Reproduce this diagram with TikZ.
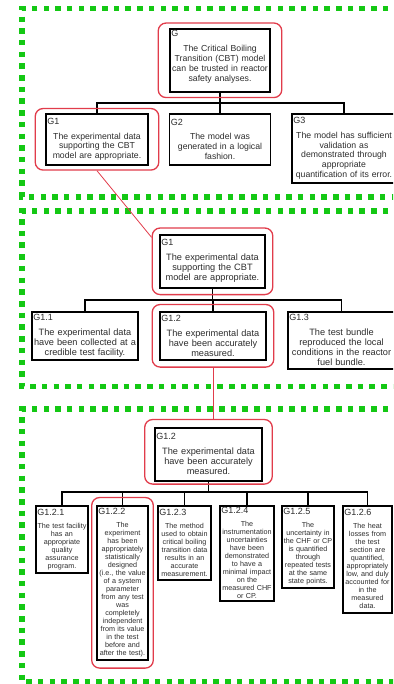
\documentclass[tikz,border=0pt]{standalone}
\usepackage{fontspec}
\setmainfont{Liberation Sans}
\usetikzlibrary{fit,calc}
\definecolor{dotgreen}{RGB}{20,200,20}
\definecolor{hlred}{RGB}{225,60,75}
\definecolor{txt}{RGB}{45,45,45}
\newcommand{\glbl}[1]{\makebox[\linewidth][l]{\hspace*{4.3pt}\fontsize{9}{9}\selectfont #1}}
\tikzset{
  goal/.style 2 args={draw=black, line width=1.6pt, fill=white,
    minimum width=#1pt, text width=#1pt+6pt, minimum height=#2pt,
    inner xsep=-3pt, inner ysep=1pt, align=center, anchor=north, text=txt},
  bigtxt/.style={font=\fontsize{8.7}{9.8}\selectfont},
  midtxt/.style={font=\fontsize{9.2}{10}\selectfont},
  smalltxt/.style={font=\fontsize{7.2}{8}\selectfont},
  hl/.style={draw=hlred, line width=1.3pt, rounded corners=8pt},
  link/.style={draw=black, line width=1.6pt},
  redlink/.style={draw=hlred, line width=0.8pt},
  panel/.style={draw=dotgreen, line width=5.5pt, dash pattern=on 5.5pt off 6.2pt}
}
\begin{document}
\begin{tikzpicture}[x=1pt,y=-1pt]
\useasboundingbox (0,0) rectangle (393,684);
\clip (0,0) rectangle (393,684);
% green panels
\draw[panel] (400,8.5) -- (22,8.5) -- (22,197) -- (400,197);
\draw[panel] (400,211) -- (22,211) -- (22,386.5) -- (400,386.5);
\draw[panel] (400,409) -- (22,409) -- (22,682) -- (400,682);

% ---------- panel 1 ----------
\node[goal={100}{63}, bigtxt] (G) at (220,28) {\glbl{G}\\[5pt]The Critical Boiling\\Transition (CBT) model\\can be trusted in reactor\\safety analyses.\rule[-9pt]{0pt}{1pt}};
\node[goal={102}{51}, bigtxt] (G1) at (97,113) {\glbl{G1}\\[5pt]The experimental data\\supporting the CBT\\model are appropriate.};
\node[goal={101}{51}, bigtxt] (G2) at (220,113) {\glbl{G2}\\[5pt]The model was\\generated in a logical\\fashion.};
\node[goal={104}{69}, bigtxt] (G3) at (344,113) {\glbl{G3}\\[5pt]The model has sufficient\\validation as\\demonstrated through\\appropriate\\quantification of its error.};
\coordinate (bar1) at (220,103);
\draw[link] (G.south) -- (G.south |- bar1);
\draw[link] (G1.north) |- (bar1) -| (G3.north);
\draw[link] (G2.north) -- (G2.north |- bar1);
\node[hl, fit=(G), inner xsep=11pt, inner ysep=5pt] (hG) {};
\node[hl, fit=(G1), inner xsep=10pt, inner ysep=4.5pt] (hG1) {};

% ---------- panel 2 ----------
\node[goal={105}{53}, midtxt] (P2G1) at (212.5,234) {\glbl{G1}\\[5pt]The experimental data\\supporting the CBT\\model are appropriate.};
\node[goal={106}{48}, midtxt] (G11) at (85,311) {\glbl{G1.1}\\[5pt]The experimental data\\have been collected at a\\credible test facility.};
\node[goal={106}{48}, midtxt] (G12) at (213,311) {\glbl{G1.2}\\[5pt]The experimental data\\have been accurately\\measured.};
\node[goal={107}{57}, midtxt] (G13) at (341.5,311) {\glbl{G1.3}\\[5pt]The test bundle\\reproduced the local\\conditions in the reactor\\fuel bundle.};
\coordinate (bar2) at (213,300);
\draw[link] (P2G1.south) -- (P2G1.south |- bar2);
\draw[link] (G11.north) |- (bar2) -| (G13.north);
\draw[link] (G12.north) -- (G12.north |- bar2);
\node[hl, fit=(P2G1), inner xsep=7pt, inner ysep=6pt] (hP2G1) {};
\node[hl, fit=(G12), inner xsep=7pt, inner ysep=6.5pt] (hG12) {};

% ---------- panel 3 ----------
\node[goal={107}{53}, midtxt] (P3G12) at (208.5,427) {\glbl{G1.2}\\[5pt]The experimental data\\have been accurately\\measured.};
\node[goal={52}{67}, smalltxt] (G121) at (62,505) {\glbl{G1.2.1}\\[5pt]The test facility\\has an\\appropriate\\quality\\assurance\\program.};
\node[goal={51}{154}, smalltxt] (G122) at (122.5,505) {\glbl{G1.2.2}\\[5pt]The\\experiment\\has been\\appropriately\\statistically\\designed\\(i.e., the value\\of a system\\parameter\\from any test\\was\\completely\\independent\\from its value\\in the test\\before and\\after the test).};
\node[goal={53}{74}, smalltxt] (G123) at (184.5,505) {\glbl{G1.2.3}\\[5pt]The method\\used to obtain\\critical boiling\\transition data\\results in an\\accurate\\measurement.};
\node[goal={54}{95}, smalltxt] (G124) at (247,505) {\glbl{G1.2.4}\\[5pt]The\\instrumentation\\uncertainties\\have been\\demonstrated\\to have a\\minimal impact\\on the\\measured CHF\\or CP.};
\node[goal={52}{82}, smalltxt] (G125) at (308,505) {\glbl{G1.2.5}\\[5pt]The\\uncertainty in\\the CHF or CP\\is quantified\\through\\repeated tests\\at the same\\state points.};
\node[goal={49}{107}, smalltxt] (G126) at (367.5,505) {\glbl{G1.2.6}\\[5pt]The heat\\losses from\\the test\\section are\\quantified,\\appropriately\\low, and duly\\accounted for\\in the\\measured\\data.};
\coordinate (bar3) at (208.5,492);
\draw[link] (P3G12.south) -- (P3G12.south |- bar3);
\draw[link] (G121.north) |- (bar3) -| (G126.north);
\foreach \n in {G122,G123,G124,G125} {\draw[link] (\n.north) -- (\n.north |- bar3);}
\node[hl, fit=(P3G12), inner xsep=9.5pt, inner ysep=5pt, yshift=2.5pt] (hP3G12) {};
\node[hl, fit=(G122), inner xsep=4.5pt, inner ysep=7.5pt] (hG122) {};

% ---------- red links between panels ----------
\draw[redlink] (hG1.south) -- ($(hP2G1.north west)+(0,10)$);
\draw[redlink] (hG12.south) -- (hG12.south |- hP3G12.north);
\end{tikzpicture}
\end{document}
